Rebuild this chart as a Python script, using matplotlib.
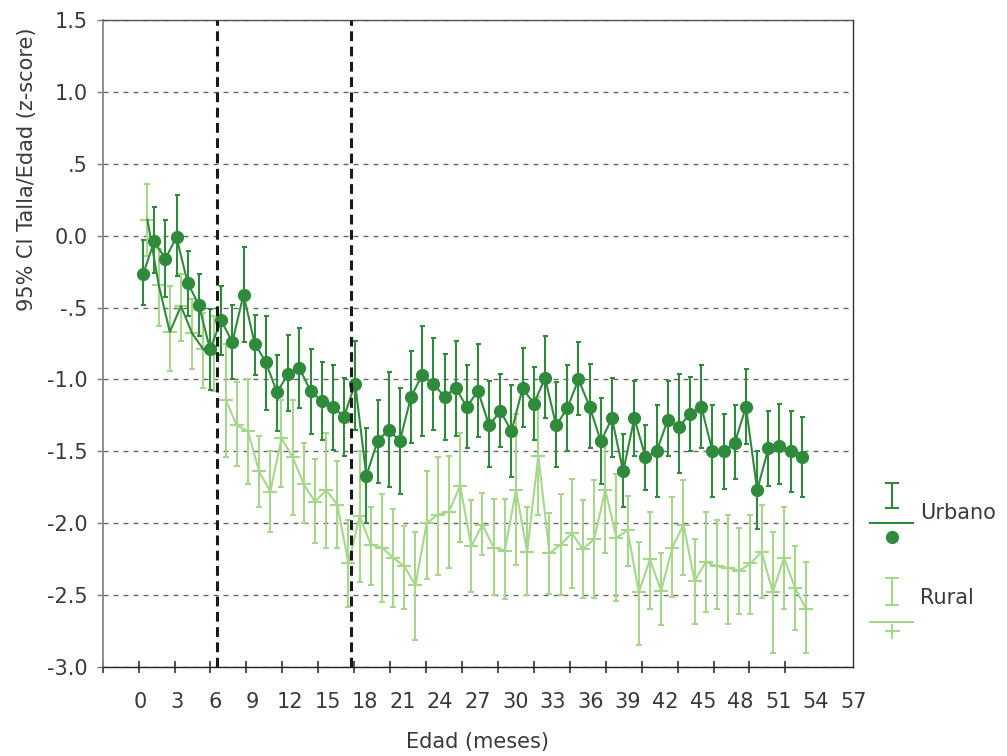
import numpy as np
import matplotlib
matplotlib.use('Agg')
import matplotlib.pyplot as plt

#  Edad en meses (0-59): una media y su IC 95% por mes y por grupo
edad = np.arange(60)

urb_media = [-0.27, -0.04, -0.16, -0.01, -0.33, -0.48, -0.79, -0.59, -0.74, -0.41,
             -0.75, -0.88, -1.09, -0.96, -0.92, -1.08, -1.15, -1.19, -1.26, -1.03,
             -1.67, -1.43, -1.35, -1.43, -1.12, -0.97, -1.03, -1.12, -1.06, -1.19,
             -1.08, -1.32, -1.22, -1.36, -1.06, -1.17, -0.99, -1.32, -1.20, -1.00,
             -1.19, -1.43, -1.27, -1.64, -1.27, -1.54, -1.50, -1.28, -1.33, -1.24,
             -1.19, -1.50, -1.50, -1.44, -1.19, -1.77, -1.48, -1.46, -1.50, -1.54]
urb_sup = [-0.03, 0.20, 0.11, 0.28, -0.11, -0.27, -0.51, -0.35, -0.48, -0.08,
           -0.55, -0.56, -0.83, -0.69, -0.64, -0.79, -0.88, -0.90, -0.99, -0.73,
           -1.34, -1.14, -0.95, -1.06, -0.80, -0.63, -0.71, -0.82, -0.73, -0.90,
           -0.75, -1.01, -0.96, -1.04, -0.78, -0.91, -0.70, -1.02, -0.90, -0.74,
           -0.89, -1.13, -0.99, -1.38, -1.01, -1.32, -1.18, -1.01, -0.96, -0.98,
           -0.90, -1.18, -1.24, -1.18, -0.93, -1.50, -1.22, -1.17, -1.22, -1.26]
urb_inf = [-0.48, -0.26, -0.43, -0.28, -0.56, -0.70, -1.07, -0.83, -1.00, -0.74,
           -0.97, -1.21, -1.36, -1.22, -1.20, -1.38, -1.42, -1.49, -1.53, -1.35,
           -2.00, -1.72, -1.75, -1.80, -1.44, -1.39, -1.35, -1.42, -1.39, -1.48,
           -1.40, -1.61, -1.47, -1.68, -1.33, -1.42, -1.27, -1.61, -1.50, -1.25,
           -1.48, -1.73, -1.54, -1.89, -1.53, -1.77, -1.82, -1.53, -1.65, -1.50,
           -1.48, -1.82, -1.76, -1.69, -1.45, -2.04, -1.74, -1.73, -1.78, -1.82]

rur_media = [0.11, -0.34, -0.67, -0.49, -0.68, -0.79, -0.82, -1.14, -1.32, -1.36,
             -1.64, -1.78, -1.41, -1.54, -1.73, -1.85, -1.77, -1.87, -2.28, -1.95,
             -2.15, -2.17, -2.24, -2.30, -2.43, -2.00, -1.94, -1.92, -1.74, -2.16,
             -2.01, -2.17, -2.19, -1.77, -2.20, -1.53, -2.21, -2.15, -2.07, -2.18,
             -2.11, -1.77, -2.10, -2.05, -2.48, -2.25, -2.47, -2.17, -2.01, -2.40,
             -2.27, -2.30, -2.31, -2.33, -2.28, -2.20, -2.48, -2.24, -2.45, -2.60]
rur_sup = [0.36, -0.09, -0.35, -0.27, -0.44, -0.54, -0.56, -0.75, -1.02, -1.00,
           -1.39, -1.50, -1.14, -1.14, -1.44, -1.55, -1.37, -1.57, -1.98, -1.50,
           -1.89, -1.80, -1.90, -2.02, -2.06, -1.64, -1.54, -1.53, -1.37, -1.84,
           -1.79, -1.83, -1.83, -1.24, -1.89, -1.12, -1.93, -1.80, -1.69, -1.84,
           -1.70, -1.45, -1.66, -1.81, -2.13, -1.92, -2.21, -1.82, -1.70, -2.11,
           -1.92, -1.98, -1.94, -2.03, -1.94, -1.87, -2.06, -1.89, -2.16, -2.27]
rur_inf = [-0.14, -0.63, -0.94, -0.73, -0.93, -1.06, -1.08, -1.54, -1.60, -1.73,
           -1.89, -2.06, -1.75, -1.94, -2.00, -2.14, -2.17, -2.17, -2.58, -2.41,
           -2.43, -2.55, -2.58, -2.60, -2.81, -2.39, -2.36, -2.31, -2.13, -2.48,
           -2.22, -2.50, -2.53, -2.29, -2.50, -1.94, -2.49, -2.50, -2.45, -2.52,
           -2.52, -2.21, -2.54, -2.30, -2.85, -2.60, -2.71, -2.51, -2.36, -2.70,
           -2.62, -2.60, -2.70, -2.63, -2.63, -2.52, -2.90, -2.60, -2.74, -2.90]

etiquetas_x = [str(v) for v in range(0, 58, 3)]
valores_y = [1.5, 1.0, 0.5, 0.0, -0.5, -1.0, -1.5, -2.0, -2.5, -3.0]
etiquetas_y = ['1.5', '1.0', '.5', '0.0', '-.5', '-1.0', '-1.5', '-2.0', '-2.5', '-3.0']
cortes = [6.4, 18.4]

VERDE = '#2f8b3b'
VERDE_CLARO = '#a6d78c'
TEXTO = '#3a3a3a'

plt.rcParams['font.family'] = ['DejaVu Sans']

fig = plt.figure(figsize=(10.07, 7.56), dpi=100)
ax = fig.add_axes([102.7/1007, 89/756, 750.6/1007, 647/756])

#  Urbano y rural ligeramente desplazados en x
xu = edad - 0.2
xr = edad + 0.2
um = np.array(urb_media)
rm = np.array(rur_media)

#  Rural
ax.errorbar(xr, rm, yerr=[rm - np.array(rur_inf), np.array(rur_sup) - rm],
            fmt='none', ecolor=VERDE_CLARO, elinewidth=1.5, capsize=1.9, capthick=1.5, zorder=2)
ax.plot(xr[:7], rm[:7], color=VERDE, lw=1.5, zorder=3)
ax.plot(xr[7:], rm[7:], color=VERDE_CLARO, lw=1.5, zorder=2)
ax.plot(xr, rm, ls='none', marker='_', ms=9.5, mew=1.6, color=VERDE_CLARO, zorder=2)

#  Urbano
ax.errorbar(xu, um, yerr=[um - np.array(urb_inf), np.array(urb_sup) - um],
            fmt='none', ecolor=VERDE, elinewidth=1.5, capsize=1.8, capthick=1.5, zorder=3)
ax.plot(xu, um, color=VERDE, lw=1.5, marker='o', ms=8.5, zorder=3)

for c in cortes:
    ax.axvline(c, color='#1a1a1a', lw=2.2, ls=(0, (3.2, 1.8)), zorder=4)

ax.set_xlim(-3.81, 62.97)
ax.set_ylim(-3.0, 1.5)

ax.set_yticks(valores_y, etiquetas_y)
ax.yaxis.grid(True, ls=(0, (3.6, 3.6)), color='#666666', lw=1.0)
ax.set_axisbelow(True)

ax.set_xticks(np.linspace(-0.49, 63.41, 20), etiquetas_x)
ax.set_xticks(np.linspace(-3.81, 57.33, 20), minor=True)
ax.tick_params(axis='x', which='major', length=0, pad=18, labelsize=15, labelcolor=TEXTO)
ax.tick_params(axis='x', which='minor', direction='inout', length=8.5, width=1.1, color='#222222')
ax.tick_params(axis='y', length=4, width=1, pad=7, labelsize=15, labelcolor=TEXTO, color='#777777')

ax.spines['left'].set_color('#888888')
ax.spines['left'].set_linewidth(1.3)
ax.spines['bottom'].set_color('#222222')
ax.spines['top'].set_color('#555555')
ax.spines['right'].set_color('#333333')
for s in ['bottom', 'top', 'right']:
    ax.spines[s].set_linewidth(1.0)

ax.set_xlabel('Edad (meses)', fontsize=15, color=TEXTO)
ax.xaxis.set_label_coords(0.5, -0.116)
ax.xaxis.label.set_va('center')

ax.set_ylabel('95% CI Talla/Edad (z-score)', fontsize=15, color=TEXTO)
ax.yaxis.set_label_coords(-0.1009, 0.989)
ax.yaxis.label.set_ha('right')
ax.yaxis.label.set_va('center')

#  Leyenda dibujada a mano (coordenadas en pixeles)
lg = fig.add_axes([860/1007, (756-650)/756, 147/1007, 180/756])
lg.set_xlim(860, 1007)
lg.set_ylim(650, 470)
lg.axis('off')

lg.errorbar([891.7], [495.5], yerr=[[12.5], [12.5]], fmt='none', ecolor=VERDE,
            elinewidth=1.5, capsize=4.7, capthick=1.5)
lg.plot([870, 912.7], [523.3, 523.3], color=VERDE, lw=1.5)
lg.plot([891.7], [536.7], 'o', ms=8.5, color=VERDE)
lg.text(920, 513, 'Urbano', va='center', ha='left', fontsize=15, color=TEXTO)

lg.errorbar([891.7], [591.5], yerr=[[13.5], [13.5]], fmt='none', ecolor=VERDE_CLARO,
            elinewidth=1.5, capsize=4.7, capthick=1.5)
lg.plot([870, 912.7], [621.7, 621.7], color=VERDE_CLARO, lw=1.5)
lg.plot([891.7], [631], '+', ms=10.8, mew=1.5, color=VERDE_CLARO)
lg.text(920, 598, 'Rural', va='center', ha='left', fontsize=15, color=TEXTO)

fig.savefig('out.png', dpi=100)
